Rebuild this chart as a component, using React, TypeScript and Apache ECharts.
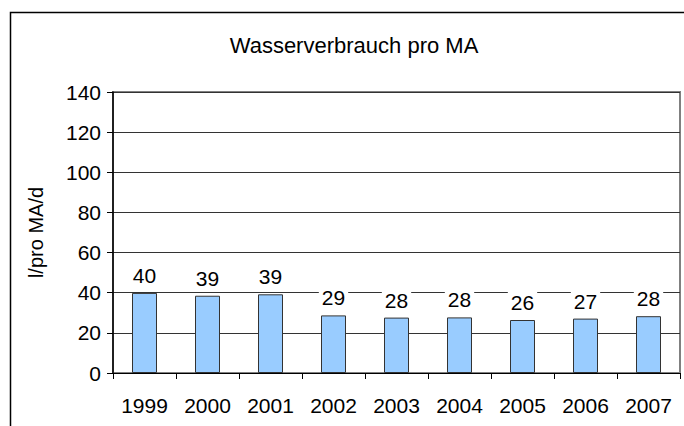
import React, { useEffect, useRef } from "react";
import * as echarts from "echarts";

const years = ["1999", "2000", "2001", "2002", "2003", "2004", "2005", "2006", "2007"];
const consumption = [39.9, 38.5, 39.2, 28.7, 27.6, 27.7, 26.4, 27.1, 28.3];
const titleText = "Wasserverbrauch pro MA";
const yAxisName = "l/pro MA/d";

const FONT = "'Liberation Sans', Arial, Helvetica, sans-serif";

export default function App() {
  const ref = useRef<HTMLDivElement>(null);
  useEffect(() => {
    if (!ref.current) return;
    const chart = echarts.init(ref.current, undefined, { renderer: "svg" });
    chart.setOption({
      animation: false,
      backgroundColor: "#fff",
      textStyle: { fontFamily: FONT },
      title: {
        text: titleText,
        left: 349,
        top: 29,
        textAlign: "center",
        textStyle: { fontSize: 22, fontWeight: "normal", color: "#000", fontFamily: FONT },
      },
      graphic: [
        {
          type: "rect",
          shape: { x: 10.5, y: 12.5, width: 900, height: 600 },
          style: { fill: "none", stroke: "#000", lineWidth: 1.5 },
          z: -1,
        },
      ],
      grid: {
        left: 113,
        right: 4,
        top: 92,
        bottom: 53,
        show: true,
        borderColor: "#808080",
        borderWidth: 2,
        backgroundColor: "transparent",
      },
      xAxis: {
        type: "category",
        data: years,
        axisLine: { show: true, lineStyle: { color: "#000", width: 1 } },
        axisTick: { show: true, inside: false, length: 6, alignWithLabel: false, lineStyle: { color: "#000" } },
        axisLabel: { fontSize: 21, color: "#000", margin: 22, fontFamily: FONT },
        splitLine: { show: false },
      },
      yAxis: {
        type: "value",
        min: 0,
        max: 140,
        interval: 20,
        name: yAxisName,
        nameLocation: "middle",
        nameGap: 67,
        nameRotate: 90,
        nameTextStyle: { fontSize: 20, color: "#000", fontFamily: FONT },
        axisLine: { show: true, lineStyle: { color: "#000", width: 1.5 } },
        axisTick: { show: true, inside: false, length: 6, lineStyle: { color: "#000" } },
        axisLabel: { fontSize: 21, color: "#000", margin: 12, fontFamily: FONT },
        splitLine: { show: true, lineStyle: { color: "#333", width: 1 } },
      },
      series: [
        {
          type: "bar",
          data: consumption,
          barWidth: 25,
          itemStyle: { color: "#99ccff", borderColor: "#333", borderWidth: 1 },
          label: {
            show: true,
            position: "top",
            distance: 7,
            fontSize: 21,
            color: "#000",
            fontFamily: FONT,
            backgroundColor: "#fff",
            padding: [0, 3],
            formatter: (p: any) => String(Math.round(p.value)),
          },
        },
      ],
    });
    return () => chart.dispose();
  }, []);
  return <div ref={ref} style={{ width: 684, height: 426, position: "absolute", left: 0, top: 0 }} />;
}
